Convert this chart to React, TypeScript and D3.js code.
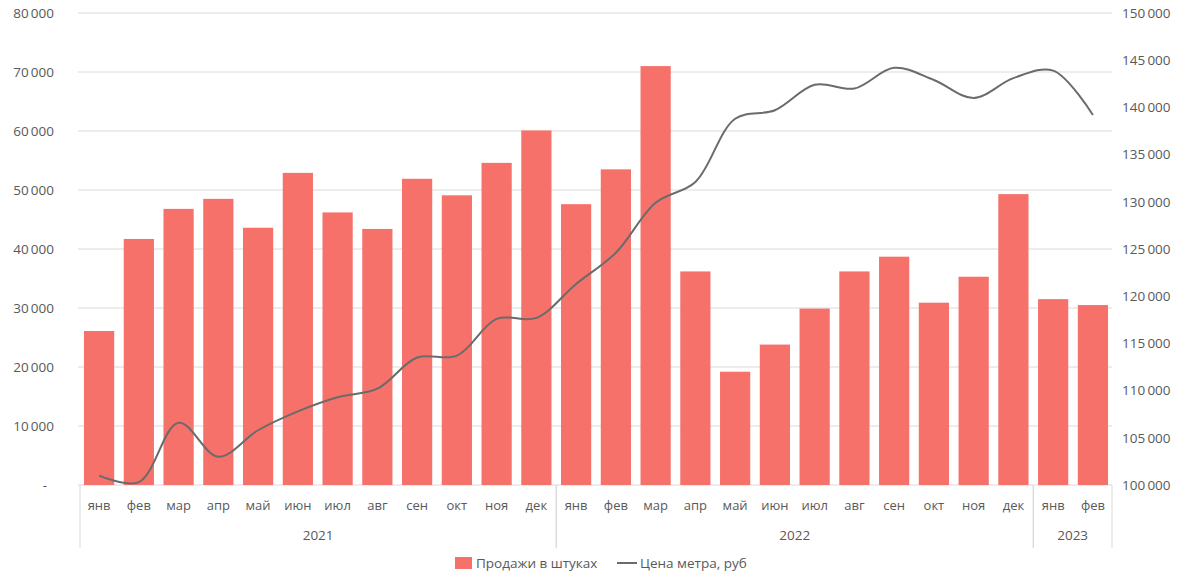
import React from "react";
import * as d3 from "d3";

const months = ["янв","фев","мар","апр","май","июн","июл","авг","сен","окт","ноя","дек","янв","фев","мар","апр","май","июн","июл","авг","сен","окт","ноя","дек","янв","фев"];
const years = ["2021","2022","2023"];
const yearOfIndex = [0,0,0,0,0,0,0,0,0,0,0,0,1,1,1,1,1,1,1,1,1,1,1,1,2,2];
const sales = [26100,41700,46800,48500,43600,52900,46200,43400,51900,49100,54600,60100,47600,53500,71000,36200,19200,23800,29900,36200,38700,30900,35300,49300,31500,30500];
const price = [101000,100300,106600,103000,105800,107800,109300,110200,113500,113700,117600,117700,121300,124600,129900,132100,138800,139700,142400,142000,144200,142900,141000,143100,143900,139200];
const leftTicks = [0,10000,20000,30000,40000,50000,60000,70000,80000];
const rightTicks = [100000,105000,110000,115000,120000,125000,130000,135000,140000,145000,150000];
const legendLabels = ["Продажи в штуках","Цена метра, руб"];

const W = 1200, H = 581;
const X0 = 80, X1 = 1112, Y0 = 485, Y1 = 13;
const BAR = "#f5716a";
const LINE = "#6b6b6b";
const GRID = "#dadada";
const TXT = "#595959";
const FONT = "'Open Sans', sans-serif";

const fmt = (v: number) => (v === 0 ? "-" : d3.format(",")(v).replace(/,/g, "\u2009"));

export default function App() {
  const idx = months.map((_, i) => String(i));
  const x = d3.scaleBand<string>().domain(idx).range([X0, X1]).paddingInner(0.24).paddingOuter(0.1);
  const yL = d3.scaleLinear().domain([0, 80000]).range([Y0, Y1]);
  const yR = d3.scaleLinear().domain([100000, 150000]).range([Y0, Y1]);
  const step = x.step();
  const cx = (i: number) => (x(String(i)) as number) + x.bandwidth() / 2;
  const line = d3
    .line<number>()
    .x((_, i) => cx(i))
    .y((d) => yR(d))
    .curve(d3.curveCatmullRom.alpha(0.5));

  // group boundaries
  const groups = years.map((yr, g) => {
    const ids = yearOfIndex.map((v, i) => (v === g ? i : -1)).filter((v) => v >= 0);
    const first = ids[0], last = ids[ids.length - 1];
    const left = first === 0 ? X0 : (x(String(first)) as number) - (step - x.bandwidth()) / 2;
    const right = last === months.length - 1 ? X1 : (x(String(last)) as number) + x.bandwidth() + (step - x.bandwidth()) / 2;
    return { yr, left, right };
  });
  const seps = Array.from(new Set(groups.flatMap((g) => [g.left, g.right])));

  return (
    <svg width={W} height={H} style={{ position: "absolute", left: 0, top: 0, background: "#fff" }} fontFamily={FONT}>
      <rect x={0} y={0} width={W} height={H} fill="#fff" />
      {leftTicks.map((t) => (
        <line key={"g" + t} x1={X0 - 2} x2={X1} y1={yL(t)} y2={yL(t)} stroke={GRID} strokeWidth={1} />
      ))}
      {leftTicks.map((t) => (
        <text key={"l" + t} x={t === 0 ? 47 : 54} y={yL(t)} dy="0.35em" textAnchor="end" fontSize={13.5} fill={TXT}>
          {fmt(t)}
        </text>
      ))}
      {rightTicks.map((t) => (
        <text key={"r" + t} x={1122} y={yR(t)} dy="0.35em" textAnchor="start" fontSize={13.5} fill={TXT}>
          {fmt(t)}
        </text>
      ))}
      {sales.map((v, i) => (
        <rect key={"b" + i} x={x(String(i))} y={yL(v)} width={x.bandwidth()} height={Y0 - yL(v)} fill={BAR} />
      ))}
      <path d={line(price) || ""} fill="none" stroke={LINE} strokeWidth={2} />
      {/* category axis */}
      {seps.map((s, i) => (
        <line key={"s" + i} x1={s} x2={s} y1={Y0} y2={548} stroke={GRID} strokeWidth={1} />
      ))}
      {months.map((m, i) => (
        <text key={"m" + i} x={cx(i)} y={505} dy="0.35em" textAnchor="middle" fontSize={13} fill={TXT}>
          {m}
        </text>
      ))}
      {groups.map((g) => (
        <text key={g.yr} x={(g.left + g.right) / 2} y={535} dy="0.35em" textAnchor="middle" fontSize={13.5} fill={TXT}>
          {g.yr}
        </text>
      ))}
      {/* legend */}
      <rect x={455} y={557} width={17} height={12} fill={BAR} />
      <text x={476} y={563} dy="0.35em" fontSize={13.5} fill={TXT}>{legendLabels[0]}</text>
      <line x1={617} x2={637} y1={563} y2={563} stroke={LINE} strokeWidth={2} />
      <text x={640} y={563} dy="0.35em" fontSize={13.5} fill={TXT}>{legendLabels[1]}</text>
    </svg>
  );
}
